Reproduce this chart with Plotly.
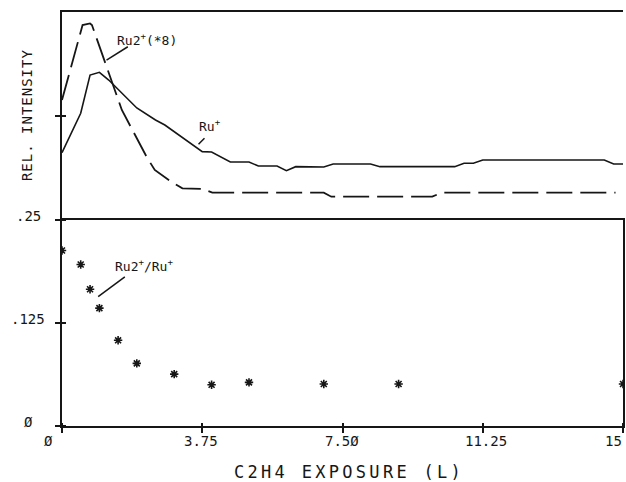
import plotly.graph_objects as go

# Ru+ signal versus C2H4 exposure (L), relative units
ru_x = [0, 0.5, 0.75, 1.0, 1.25, 2.0, 2.5, 2.75, 3.75, 4.0, 4.5, 5.0, 5.25, 5.75,
        6.0, 6.25, 7.0, 7.25, 8.25, 8.5, 10.5, 10.75, 11.0, 11.25, 14.5, 14.75, 15.0]
ru_y = [0.647, 1.026, 1.394, 1.42, 1.346, 1.077, 0.962, 0.913, 0.657, 0.654, 0.558,
        0.558, 0.519, 0.519, 0.474, 0.513, 0.51, 0.538, 0.538, 0.513, 0.513, 0.545,
        0.545, 0.577, 0.577, 0.538, 0.538]

# Ru2+ signal (scaled x8)
ru2_x = [0, 0.5, 0.55, 0.75, 0.8, 1.6, 2.26, 2.48, 2.92, 3.22, 3.76, 4.02, 7.0,
         7.2, 9.9, 10.15, 14.8]
ru2_y = [1.154, 1.81, 1.875, 1.89, 1.875, 1.058, 0.609, 0.481, 0.368, 0.305, 0.298,
         0.2625, 0.2625, 0.224, 0.224, 0.2625, 0.2625]

# Ru2+/Ru+ ratio
ratio_x = [0, 0.5, 0.75, 1.0, 1.5, 2.0, 3.0, 4.0, 5.0, 7.0, 9.0, 15.0]
ratio_y = [0.213, 0.196, 0.166, 0.143, 0.104, 0.076, 0.063, 0.050, 0.053, 0.051,
           0.051, 0.051]

x_ticks = [0, 3.75, 7.5, 11.25, 15]
x_tick_text = ["Ø", "3.75", "7.5Ø", "11.25", "15"]
ratio_ticks = [0, 0.125, 0.25]
ratio_tick_text = ["Ø", ".125", ".25"]
intensity_ticks = [1]

INK = "#161616"
FONT = "DejaVu Sans Mono"

# plot-area geometry in pixels (626 x 482 page)
L, R, T, B = 62, 1, 12, 56
W, H = 626, 482
PW, PH = W - L - R, H - T - B
SPLIT = 220  # pixel row of the panel divider
split_frac = (H - B - SPLIT) / PH


def px_x(p):
    return (p - L) / PW


def px_y(p):
    return (H - B - p) / PH


fig = go.Figure()

fig.add_trace(go.Scatter(
    x=ru_x, y=ru_y, xaxis="x2", yaxis="y2", mode="lines",
    line=dict(color=INK, width=1.6), showlegend=False, name="Ru+"))
fig.add_trace(go.Scatter(
    x=ru2_x, y=ru2_y, xaxis="x2", yaxis="y2", mode="lines",
    line=dict(color=INK, width=1.8, dash="26px,8px"), showlegend=False,
    name="Ru2+ (x8)"))
fig.add_trace(go.Scatter(
    x=ratio_x, y=ratio_y, xaxis="x", yaxis="y", mode="markers",
    marker=dict(symbol="asterisk-open", size=7, color=INK,
                line=dict(color=INK, width=1.6)),
    cliponaxis=True, showlegend=False, name="Ru2+/Ru+"))

axis_common = dict(showgrid=False, zeroline=False, showline=True,
                   linecolor=INK, linewidth=2, tickcolor=INK, tickwidth=1.5,
                   showticklabels=False, fixedrange=True)

fig.update_layout(
    width=W, height=H,
    margin=dict(l=L, r=R, t=T, b=B, pad=0),
    paper_bgcolor="white", plot_bgcolor="white",
    xaxis=dict(domain=[0, 1], anchor="y", range=[0, 15], mirror=True,
               tickmode="array", tickvals=x_ticks, ticks="outside", ticklen=5,
               minor=dict(tickmode="array", tickvals=x_ticks, ticks="inside",
                          ticklen=3, tickcolor=INK, tickwidth=1.5),
               **axis_common),
    yaxis=dict(domain=[0, split_frac], anchor="x", range=[0, 0.25], mirror=True,
               tickmode="array", tickvals=ratio_ticks, ticks="outside", ticklen=5,
               minor=dict(tickmode="array", tickvals=ratio_ticks, ticks="inside",
                          ticklen=4, tickcolor=INK, tickwidth=1.5),
               **axis_common),
    xaxis2=dict(domain=[0, 1], anchor="y2", range=[0, 15], side="top",
                tickmode="array", tickvals=[], ticks="", **axis_common),
    yaxis2=dict(domain=[split_frac, 1], anchor="x2", range=[0, 2],
                tickmode="array", tickvals=intensity_ticks, ticks="outside",
                ticklen=5,
                minor=dict(tickmode="array", tickvals=intensity_ticks,
                           ticks="inside", ticklen=4, tickcolor=INK,
                           tickwidth=1.5),
                **axis_common),
)

annotations = []

# x tick labels, set slightly left of each tick
for v, t in zip(x_ticks, x_tick_text):
    annotations.append(dict(
        x=v, xref="x", y=px_y(441), yref="paper", text=t,
        xanchor="left", yanchor="middle", xshift=-20, showarrow=False,
        font=dict(family=FONT, size=14, color=INK)))

# y tick labels of the ratio panel
for v, t in zip(ratio_ticks, ratio_tick_text):
    annotations.append(dict(
        x=px_x(28), xref="paper", y=v, yref="y", text=t,
        xanchor="center", yanchor="middle", yshift=4, showarrow=False,
        font=dict(family=FONT, size=14, color=INK)))

# axis titles
annotations.append(dict(
    x=px_x(350), xref="paper", y=px_y(472), yref="paper",
    text='<span style="letter-spacing:3.3px">C2H4 EXPOSURE (L)</span>',
    showarrow=False, xanchor="center", yanchor="middle",
    font=dict(family=FONT, size=17, color=INK)))
annotations.append(dict(
    x=px_x(27), xref="paper", y=px_y(115), yref="paper",
    text='<span style="letter-spacing:1px">REL. INTENSITY</span>',
    showarrow=False, textangle=-90, xanchor="center", yanchor="middle",
    font=dict(family=FONT, size=14, color=INK)))

# series labels
label_font = dict(family=FONT, size=13, color=INK)
annotations.append(dict(
    x=1.41, xref="x2", y=1.735, yref="y2",
    text="Ru2<sup>+</sup>(*8)", showarrow=False,
    xanchor="left", yanchor="middle", font=label_font))
annotations.append(dict(
    x=3.62, xref="x2", y=0.904, yref="y2",
    text="Ru<sup>+</sup>", showarrow=False,
    xanchor="left", yanchor="middle", font=label_font))
annotations.append(dict(
    x=1.36, xref="x", y=0.194, yref="y",
    text="Ru2<sup>+</sup>/Ru<sup>+</sup>", showarrow=False,
    xanchor="left", yanchor="middle", font=label_font))

fig.update_layout(annotations=annotations)

# leader lines from labels to their series
leaders = [
    ("x2", "y2", 1.19, 1.538, 1.76, 1.666),
    ("x2", "y2", 3.65, 0.728, 3.81, 0.786),
    ("x", "y", 0.967, 0.157, 1.68, 0.181),
]
for xr, yr, x0, y0, x1, y1 in leaders:
    fig.add_shape(type="line", xref=xr, yref=yr, x0=x0, y0=y0, x1=x1, y1=y1,
                  line=dict(color=INK, width=1.5))

fig.write_html("out.html")
